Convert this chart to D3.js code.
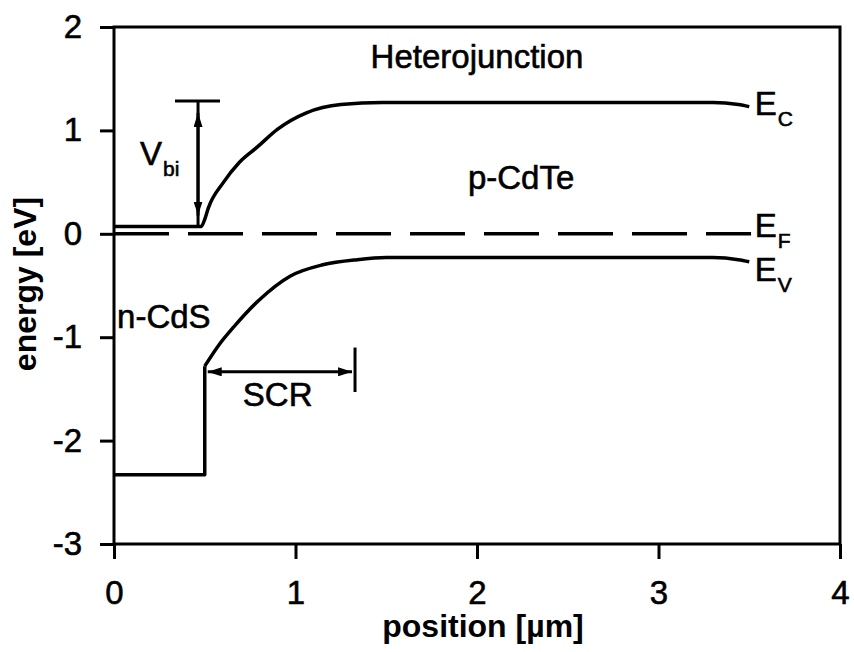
<!DOCTYPE html>
<html lang="en">
	<head>
		<meta charset="utf-8">
		<title>Heterojunction band diagram</title>
		<script type="text/javascript" src="https://cdn.jsdelivr.net/npm/d3@7"></script>
		<style type="text/css">
			body {
				margin: 0;
				background: #fff;
			}
			text {
				font-family: "Liberation Sans", Arial, sans-serif;
				fill: #000;
				stroke: #000;
				stroke-width: 0.6px;
			}
			.axis text {
				font-size: 33px;
			}
			.axis line {
				stroke: #000;
				stroke-width: 3px;
			}
			.title {
				font-size: 32px;
				font-weight: bold;
				stroke-width: 0;
			}
			.label {
				font-size: 33px;
			}
		</style>
	</head>
	<body>
		<script type="text/javascript">
			var w = 854;
			var h = 652;

			// tick values
			var xTicks = [0, 1, 2, 3, 4];
			var yTicks = [-3, -2, -1, 0, 1, 2];

			// band edges, [position um, energy eV]
			var ecPoints = [[0, 0.07], [0.48, 0.07], [0.50, 0.14], [0.52, 0.25], [0.60, 0.49], [0.69, 0.69],
				[0.79, 0.84], [0.90, 1.01], [1.06, 1.17], [1.25, 1.25], [1.48, 1.27], [3.30, 1.27],
				[3.44, 1.25], [3.50, 1.23]];
			var evStep = [[0, -2.33], [0.50, -2.33], [0.50, -1.28]];
			var evPoints = [[0.50, -1.28], [0.58, -1.07], [0.66, -0.90], [0.80, -0.64],
				[0.97, -0.41], [1.15, -0.30], [1.34, -0.25], [1.50, -0.23], [3.30, -0.23],
				[3.44, -0.25], [3.50, -0.27]];
			var efPoints = [[0, 0], [3.51, 0]];

			// Vbi and SCR markers
			var vbi = { x: 0.463, bottom: 0.07, top: 1.285, barLeft: 0.336, barRight: 0.584 };
			var scr = { y: -1.335, left: 0.50, right: 1.328, barTop: -1.10, barBottom: -1.53 };

			var xScale = d3.scaleLinear()
				.domain([0, 4])
				.range([114, 840]);

			var yScale = d3.scaleLinear()
				.domain([-3, 2])
				.range([544, 27]);

			var svg = d3.select("body")
				.append("svg")
				.attr("width", w)
				.attr("height", h);

			var defs = svg.append("defs");
			defs.append("marker")
				.attr("id", "head")
				.attr("markerUnits", "userSpaceOnUse")
				.attr("viewBox", "0 0 14 9")
				.attr("refX", 14)
				.attr("refY", 4.5)
				.attr("markerWidth", 14)
				.attr("markerHeight", 9)
				.attr("orient", "auto-start-reverse")
				.append("path")
				.attr("d", "M0,0L14,4.5L0,9Z")
				.attr("fill", "#000");

			// axes
			var xAxis = d3.axisBottom(xScale)
				.tickValues(xTicks)
				.tickFormat(function(d) { return String(d); })
				.tickSizeInner(15)
				.tickSizeOuter(0)
				.tickPadding(22);

			var yAxis = d3.axisLeft(yScale)
				.tickValues(yTicks)
				.tickFormat(function(d) { return String(d); })
				.tickSizeInner(14)
				.tickSizeOuter(0)
				.tickPadding(18);

			svg.append("g")
				.attr("class", "x axis")
				.attr("transform", "translate(0," + yScale(-3) + ")")
				.call(xAxis)
				.call(function(g) { g.select(".domain").remove(); });

			svg.append("g")
				.attr("class", "y axis")
				.attr("transform", "translate(" + xScale(0) + ",0)")
				.call(yAxis)
				.call(function(g) { g.select(".domain").remove(); });

			svg.selectAll(".axis text")
				.attr("fill", "#000")
				.style("font-family", "'Liberation Sans', Arial, sans-serif");

			// frame
			svg.append("rect")
				.attr("x", xScale(0))
				.attr("y", yScale(2))
				.attr("width", xScale(4) - xScale(0))
				.attr("height", yScale(-3) - yScale(2))
				.attr("fill", "none")
				.attr("stroke", "#000")
				.attr("stroke-width", 3);

			var smooth = d3.line()
				.x(function(d) { return xScale(d[0]); })
				.y(function(d) { return yScale(d[1]); })
				.curve(d3.curveMonotoneX);

			var straight = d3.line()
				.x(function(d) { return xScale(d[0]); })
				.y(function(d) { return yScale(d[1]); });

			svg.append("path")
				.datum(ecPoints)
				.attr("d", smooth)
				.attr("fill", "none")
				.attr("stroke", "#000")
				.attr("stroke-width", 3.5);

			svg.append("path")
				.datum(evStep)
				.attr("d", straight)
				.attr("fill", "none")
				.attr("stroke", "#000")
				.attr("stroke-width", 3.5)
				.attr("stroke-linejoin", "round");

			svg.append("path")
				.datum(evPoints)
				.attr("d", smooth)
				.attr("fill", "none")
				.attr("stroke", "#000")
				.attr("stroke-width", 3.5);

			svg.append("path")
				.datum(efPoints)
				.attr("d", straight)
				.attr("fill", "none")
				.attr("stroke", "#000")
				.attr("stroke-width", 3.5)
				.attr("stroke-dasharray", "55,19");

			// Vbi arrow
			svg.append("line")
				.attr("x1", xScale(vbi.barLeft))
				.attr("x2", xScale(vbi.barRight))
				.attr("y1", yScale(vbi.top))
				.attr("y2", yScale(vbi.top))
				.attr("stroke", "#000")
				.attr("stroke-width", 3);
			svg.append("line")
				.attr("x1", xScale(vbi.x))
				.attr("x2", xScale(vbi.x))
				.attr("y1", yScale(vbi.top))
				.attr("y2", yScale(vbi.bottom))
				.attr("stroke", "#000")
				.attr("stroke-width", 3);
			svg.append("line")
				.attr("x1", xScale(vbi.x))
				.attr("x2", xScale(vbi.x))
				.attr("y1", yScale(vbi.top) + 12)
				.attr("y2", yScale(vbi.bottom) - 11)
				.attr("stroke", "#000")
				.attr("stroke-width", 3)
				.attr("marker-start", "url(#head)")
				.attr("marker-end", "url(#head)");

			// SCR arrow
			svg.append("line")
				.attr("x1", xScale(scr.left) + 3)
				.attr("x2", xScale(scr.right) - 3)
				.attr("y1", yScale(scr.y))
				.attr("y2", yScale(scr.y))
				.attr("stroke", "#000")
				.attr("stroke-width", 3)
				.attr("marker-start", "url(#head)")
				.attr("marker-end", "url(#head)");
			svg.append("line")
				.attr("x1", xScale(scr.right))
				.attr("x2", xScale(scr.right))
				.attr("y1", yScale(scr.barTop))
				.attr("y2", yScale(scr.barBottom))
				.attr("stroke", "#000")
				.attr("stroke-width", 3);

			// labels
			svg.append("text")
				.attr("class", "label")
				.attr("x", xScale(2))
				.attr("y", yScale(1.6))
				.attr("text-anchor", "middle")
				.text("Heterojunction");

			svg.append("text")
				.attr("class", "label")
				.attr("x", xScale(1.95))
				.attr("y", yScale(0.435))
				.text("p-CdTe");

			svg.append("text")
				.attr("class", "label")
				.attr("x", xScale(0.017))
				.attr("y", yScale(-0.91))
				.text("n-CdS");

			svg.append("text")
				.attr("class", "label")
				.attr("x", xScale(0.71))
				.attr("y", yScale(-1.67))
				.text("SCR");

			function subLabel(x, y, main, sub) {
				var t = svg.append("text")
					.attr("class", "label")
					.attr("x", xScale(x))
					.attr("y", yScale(y));
				t.append("tspan").text(main);
				t.append("tspan")
					.attr("dy", 11)
					.attr("dx", 1)
					.style("font-size", "21px")
					.text(sub);
			}

			subLabel(0.143, 0.67, "V", "bi");
			subLabel(3.53, 1.15, "E", "C");
			subLabel(3.53, -0.03, "E", "F");
			subLabel(3.53, -0.46, "E", "V");

			// axis titles
			svg.append("text")
				.attr("class", "title")
				.attr("x", 483)
				.attr("y", 637)
				.attr("text-anchor", "middle")
				.text("position [\u00b5m]");

			svg.append("text")
				.attr("class", "title")
				.attr("transform", "translate(36,284) rotate(-90)")
				.attr("text-anchor", "middle")
				.text("energy [eV]");
		</script>
	</body>
</html>
